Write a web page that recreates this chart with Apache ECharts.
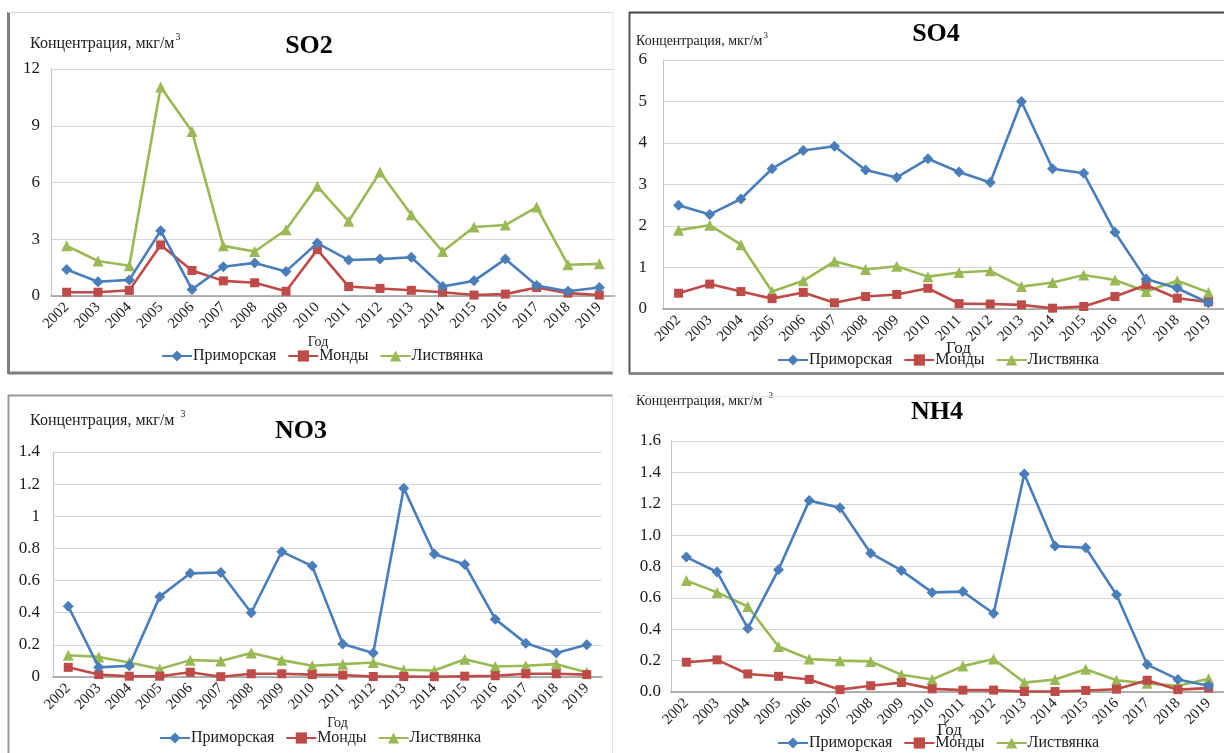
<!DOCTYPE html>
<html><head><meta charset="utf-8">
<script src="https://cdn.jsdelivr.net/npm/echarts@6/dist/echarts.min.js"></script>
<style>html,body{margin:0;padding:0;background:#fff}#c{width:1224px;height:753px}</style>
</head><body><div id="c"></div>
<script>
const years = ['2002','2003','2004','2005','2006','2007','2008','2009','2010','2011','2012','2013','2014','2015','2016','2017','2018','2019'];
const stations = ['Приморская','Монды','Листвянка'];
const panelTitles = ['SO2','SO4','NO3','NH4'];
const yAxisTitle = 'Концентрация, мкг/м';
const xAxisTitle = 'Год';

const so2Primorskaya = [1.4,0.75,0.85,3.45,0.35,1.55,1.75,1.3,2.8,1.9,1.95,2.05,0.5,0.8,1.95,0.55,0.25,0.45];
const so2Mondy       = [0.2,0.2,0.3,2.7,1.35,0.8,0.7,0.25,2.45,0.5,0.4,0.3,0.2,0.05,0.1,0.45,0.15,0.05];
const so2Listvyanka  = [2.65,1.85,1.6,11.05,8.7,2.65,2.35,3.5,5.8,3.95,6.55,4.3,2.35,3.65,3.75,4.7,1.65,1.7];

const so4Primorskaya = [2.5,2.28,2.65,3.38,3.82,3.92,3.35,3.17,3.62,3.3,3.05,5.0,3.38,3.27,1.85,0.72,0.5,0.15];
const so4Mondy       = [0.38,0.6,0.42,0.25,0.4,0.15,0.3,0.35,0.5,0.13,0.12,0.1,0.02,0.06,0.3,0.58,0.26,0.17];
const so4Listvyanka  = [1.9,2.02,1.55,0.42,0.68,1.15,0.95,1.03,0.78,0.88,0.92,0.54,0.64,0.82,0.7,0.42,0.68,0.4];

const no3Primorskaya = [0.44,0.06,0.07,0.5,0.645,0.65,0.4,0.78,0.69,0.205,0.15,1.175,0.765,0.70,0.36,0.21,0.15,0.2];
const no3Mondy       = [0.06,0.015,0.005,0.005,0.03,0.002,0.02,0.02,0.015,0.012,0.003,0.003,0.002,0.005,0.008,0.02,0.02,0.015];
const no3Listvyanka  = [0.135,0.125,0.09,0.05,0.105,0.1,0.15,0.105,0.07,0.08,0.09,0.045,0.04,0.11,0.065,0.07,0.08,0.03];

const nh4Primorskaya = [0.86,0.765,0.405,0.78,1.22,1.175,0.885,0.775,0.635,0.64,0.5,1.39,0.93,0.92,0.62,0.175,0.08,0.04];
const nh4Mondy       = [0.19,0.205,0.115,0.1,0.08,0.015,0.04,0.06,0.02,0.012,0.012,0.003,0.003,0.01,0.018,0.075,0.015,0.025];
const nh4Listvyanka  = [0.71,0.635,0.545,0.29,0.21,0.2,0.195,0.11,0.08,0.165,0.21,0.06,0.08,0.145,0.075,0.055,0.04,0.085];

const yMax = [12,6,1.4,1.6];
const yStep = [3,1,0.2,0.2];

const panelData = [
  [so2Primorskaya, so2Mondy, so2Listvyanka],
  [so4Primorskaya, so4Mondy, so4Listvyanka],
  [no3Primorskaya, no3Mondy, no3Listvyanka],
  [nh4Primorskaya, nh4Mondy, nh4Listvyanka]
];

const FONT = '"Liberation Serif","Times New Roman",serif';
const colors = ['#4A7EBB','#BE4B48','#98B954'];
const symbols = ['diamond','rect','triangle'];
const symbolSizes = [11,9,11];

const grids = [
  {left:51, top:69, width:564, height:227},
  {left:663, top:60, width:561, height:249},
  {left:53, top:452, width:549, height:225},
  {left:671, top:441, width:553, height:251}
];
const labelMargins = [11,16,13,10];
const yLabelFormat = [
  v => String(v),
  v => String(v),
  v => String(Math.round(v*10)/10),
  v => (Math.round(v*10)/10).toFixed(1)
];
const titlePos = [{x:309,y:33},{x:936,y:21},{x:301,y:418},{x:937,y:399}];
const yNamePos = [{x:30,y:32,fs:16},{x:636,y:31,fs:14},{x:30,y:409,fs:16},{x:636,y:391,fs:14}];
const xNameCfg = [{gap:39,fs:14,pad:[0,30,0,0]},{gap:31,fs:17,pad:[0,0,0,30]},{gap:39,fs:14,pad:[0,0,0,20]},{gap:30,fs:17,pad:[0,0,0,4]}];
const legendPos = [{x:161,y:348},{x:777,y:352},{x:159,y:730},{x:777,y:735}];

const option = {
  backgroundColor:'#ffffff',
  animation:false,
  textStyle:{fontFamily:FONT},
  grid: grids.map(g => Object.assign({containLabel:false}, g)),
  title: [],
  legend: [],
  xAxis: [],
  yAxis: [],
  series: [],
  graphic: []
};

for (let p = 0; p < 4; p++) {
  option.title.push({
    text: panelTitles[p], left: titlePos[p].x, top: titlePos[p].y, textAlign:'center', padding:0,
    textStyle:{fontFamily:FONT, fontSize:26, fontWeight:'bold', color:'#000'}
  });
  const fs = yNamePos[p].fs;
  option.title.push({
    text: '{a|' + yAxisTitle + '}{s|3}', left: yNamePos[p].x, top: yNamePos[p].y, padding:0,
    textStyle:{fontWeight:'normal', rich:{
      a:{fontFamily:FONT, fontSize:fs, fontWeight:'normal', color:'#222'},
      s:{fontFamily:FONT, fontSize:Math.round(fs*0.65), fontWeight:'normal', color:'#222', padding:[0,0,fs*0.8,p>=2?6:1]}
    }}
  });
  option.xAxis.push({
    type:'category', gridIndex:p, data:years, boundaryGap:true,
    name: xAxisTitle, nameLocation:'middle', nameGap:xNameCfg[p].gap, nameMoveOverlap:false,
    nameTextStyle:{fontFamily:FONT, fontSize:xNameCfg[p].fs, color:'#222', padding:xNameCfg[p].pad},
    axisLine:{show:true, lineStyle:{color:'#9a9a9a', width:1.5}},
    axisTick:{show:false},
    axisLabel:{rotate:45, fontFamily:FONT, fontSize:15, color:'#1a1a1a', margin:9, interval:0},
    splitLine:{show:false}
  });
  option.yAxis.push({
    type:'value', gridIndex:p, min:0, max:yMax[p], interval:yStep[p],
    axisLine:{show:true, lineStyle:{color:'#c4c4c4', width:1}},
    axisTick:{show:false},
    axisLabel:{fontFamily:FONT, fontSize:17, color:'#1a1a1a', margin:labelMargins[p], formatter:yLabelFormat[p]},
    splitLine:{show:true, lineStyle:{color:'#d6d6d6', width:1}}
  });
  option.legend.push({
    left: legendPos[p].x, top: legendPos[p].y, orient:'horizontal',
    itemWidth:30, itemHeight:14, itemGap:11, padding:0,
    data: stations.map(s => ({name:s})),
    textStyle:{fontFamily:FONT, fontSize:16, color:'#1a1a1a', padding:[0,0,0,-4]},
    selectedMode:false
  });
  for (let s = 0; s < 3; s++) {
    option.series.push({
      type:'line', name:stations[s], xAxisIndex:p, yAxisIndex:p,
      data: panelData[p][s],
      symbol:symbols[s], symbolSize:symbolSizes[s], showSymbol:true,
      lineStyle:{color:colors[s], width:2.6},
      itemStyle:{color:colors[s]},
      z: 3 - s + 2
    });
  }
}

function line(x1,y1,x2,y2,color,w){
  return {type:'line', shape:{x1,y1,x2,y2}, style:{stroke:color, lineWidth:w}, silent:true, z:10};
}
option.graphic = [
  line(8.5,12,8.5,374,'#7f7f7f',3),
  line(8,373,613,373,'#7f7f7f',3),
  line(8,12.5,613,12.5,'#d8d8d8',1),
  line(613,12,613,374,'#e6e6e6',1),
  line(629.5,12,629.5,374,'#555',2),
  line(629,12.5,1224,12.5,'#444',2),
  line(629,373.5,1224,373.5,'#888',3),
  line(8,395.5,613,395.5,'#999',2),
  line(8.5,395,8.5,753,'#999',2),
  line(612.5,395,612.5,753,'#e0e0e0',1),
  line(629,396.5,1224,396.5,'#e8e8e8',1)
];

const chart = echarts.init(document.getElementById('c'), null, {renderer:'canvas'});
chart.setOption(option);
</script>
</body></html>
